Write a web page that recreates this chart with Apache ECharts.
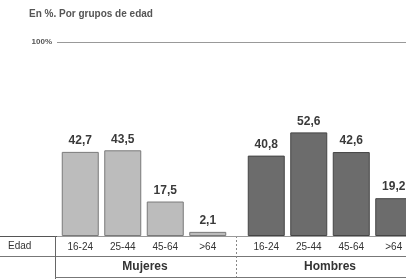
<!DOCTYPE html>
<html><head><meta charset="utf-8">
<script src="https://cdn.jsdelivr.net/npm/echarts@6/dist/echarts.min.js"></script>
<style>html,body{margin:0;padding:0;background:#fff}#c{width:406px;height:279px}</style>
</head><body><div id="c"></div>
<script>
const ageGroups = ['16-24', '25-44', '45-64', '>64'];
const mujeres = [42.7, 43.5, 17.5, 2.1];
const hombres = [40.8, 52.6, 42.6, 19.2];
const groupNames = ['Mujeres', 'Hombres'];
const titleText = 'En %. Por grupos de edad';
const rowLabel = 'Edad';

const fmt = v => String(v.value).replace('.', ',');
const font = 'Liberation Sans, Arial, sans-serif';
const chart = echarts.init(document.getElementById('c'));
const catAxis = (gi) => ({
  type: 'category', gridIndex: gi, data: ageGroups,
  axisLine: {show: false}, axisTick: {show: false},
  axisLabel: {color: '#333', fontSize: 10, fontFamily: font, margin: 6}
});
const valAxis = (gi) => ({
  type: 'value', gridIndex: gi, min: 0, max: 100, show: false
});
const lbl = {show: true, position: 'top', formatter: fmt, color: '#3a3a3a',
  fontSize: 12, fontWeight: 'bold', fontFamily: font, distance: 5};
chart.setOption({
  animation: false,
  title: {text: titleText, left: 24, top: 4,
    textStyle: {fontSize: 10, fontWeight: 'bold', color: '#555', fontFamily: font}},
  grid: [
    {left: 59, width: 170, top: 39, bottom: 43, outerBoundsMode: 'none'},
    {left: 245, width: 170, top: 39, bottom: 43, outerBoundsMode: 'none'},
    {left: 57, right: 0, top: 42, bottom: 43, outerBoundsMode: 'none'}
  ],
  xAxis: [catAxis(0), catAxis(1), {type: 'value', gridIndex: 2, show: false}],
  yAxis: [valAxis(0), valAxis(1), {
    type: 'value', gridIndex: 2, min: 0, max: 100, interval: 100,
    axisLine: {show: false}, axisTick: {show: false},
    splitLine: {show: true, lineStyle: {color: '#999', width: 1}},
    axisLabel: {color: '#555', fontSize: 8, fontWeight: 'bold', fontFamily: font, margin: 5,
      formatter: v => v === 100 ? '100%' : ''}
  }],
  series: [
    {type: 'bar', xAxisIndex: 0, yAxisIndex: 0, data: mujeres, barWidth: 37,
      itemStyle: {color: '#bcbcbc', borderColor: '#7a7a7a', borderWidth: 1}, label: lbl},
    {type: 'bar', xAxisIndex: 1, yAxisIndex: 1, data: hombres, barWidth: 37,
      itemStyle: {color: '#6c6c6c', borderColor: '#444', borderWidth: 1}, label: lbl}
  ],
  graphic: [
    {type: 'line', shape: {x1: 0, y1: 236.5, x2: 406, y2: 236.5}, style: {stroke: '#555', lineWidth: 1}},
    {type: 'line', shape: {x1: 0, y1: 256.5, x2: 406, y2: 256.5}, style: {stroke: '#777', lineWidth: 1}},
    {type: 'line', shape: {x1: 55.5, y1: 236, x2: 55.5, y2: 279}, style: {stroke: '#666', lineWidth: 1}},
    {type: 'line', shape: {x1: 236.5, y1: 236, x2: 236.5, y2: 279}, style: {stroke: '#888', lineWidth: 1, lineDash: [2, 2]}},
    {type: 'line', shape: {x1: 55, y1: 277.5, x2: 406, y2: 277.5}, style: {stroke: '#777', lineWidth: 1}},
    {type: 'text', left: 8, top: 241, style: {text: rowLabel, fontSize: 10, fill: '#333', fontFamily: font}},
    {type: 'text', x: 145, y: 267, style: {text: groupNames[0], fontSize: 12, fontWeight: 'bold', fill: '#333', fontFamily: font, textAlign: 'center', textVerticalAlign: 'middle'}},
    {type: 'text', x: 330, y: 267, style: {text: groupNames[1], fontSize: 12, fontWeight: 'bold', fill: '#333', fontFamily: font, textAlign: 'center', textVerticalAlign: 'middle'}}
  ]
});
</script></body></html>
